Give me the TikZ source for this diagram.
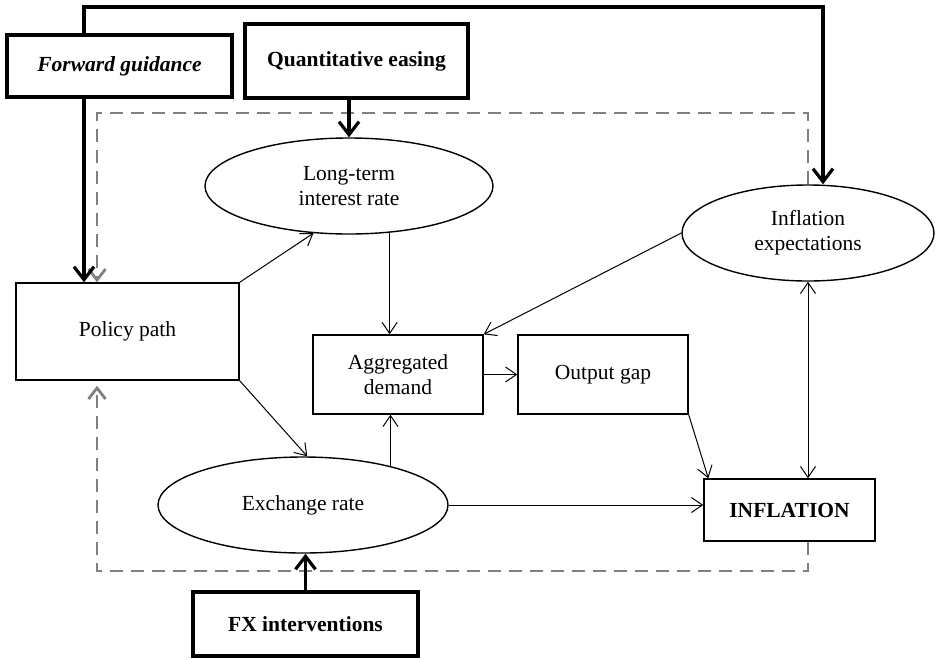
\documentclass[tikz,border=0pt]{standalone}
\usepackage{fontspec}
\setmainfont{Liberation Serif}
\usetikzlibrary{arrows.meta,shapes.geometric,calc}
\begin{document}
\begin{tikzpicture}[x=1pt,y=-1pt,
  font=\fontsize{21.5}{25}\selectfont,
  box/.style={draw, line width=1.4pt, rectangle, inner sep=0pt, align=center},
  thickbox/.style={draw, line width=3.2pt, rectangle, inner sep=0pt, align=center, font=\fontsize{21.5}{25}\selectfont\bfseries},
  oval/.style={draw, ellipse, line width=1.4pt, inner sep=0pt, align=center},
  thinarrow/.style={line width=1pt, -{Straight Barb[length=11pt,width=15pt]}},
  thinboth/.style={line width=1pt, {Straight Barb[length=11pt,width=15pt]}-{Straight Barb[length=11pt,width=15pt]}},
  strongarrow/.style={line width=3.2pt, -{Straight Barb[length=13pt,width=20pt]}},
  loopline/.style={draw=gray, line width=2.8pt, dash pattern=on 13pt off 8pt, -{Straight Barb[length=11pt,width=17pt]}}
]
\useasboundingbox (0,0) rectangle (936,659);

% nodes
\node[thickbox, minimum width=225pt, minimum height=62pt] (fg) at (119.5,66) {\itshape Forward guidance};
\node[thickbox, minimum width=223pt, minimum height=74pt] (qe) at (356.5,61) {Quantitative easing};
\node[box, minimum width=223pt, minimum height=97pt] (pp) at (127.5,331.5) {Policy path};
\node[oval, minimum width=288pt, minimum height=96pt] (lt) at (349,186) {Long-term\\interest rate};
\node[oval, minimum width=252pt, minimum height=96pt] (ie) at (808,233) {Inflation\\expectations};
\node[box, minimum width=170pt, minimum height=79pt] (ad) at (398,374.5) {Aggregated\\demand};
\node[box, minimum width=170pt, minimum height=79pt] (og) at (603,374.5) {Output gap};
\node[oval, minimum width=290pt, minimum height=96pt] (er) at (303,505) {Exchange rate};
\node[box, minimum width=171pt, minimum height=62pt, font=\fontsize{21.5}{25}\selectfont\bfseries] (inf) at (789.5,510) {INFLATION};
\node[thickbox, minimum width=225pt, minimum height=64pt] (fx) at (305.5,624) {FX interventions};

% helper coordinates
\coordinate (fgx) at ($(fg.south)+(-35.5,0)$);
\coordinate (topR) at (823,7);
\coordinate (dashTL) at (97,113);
\coordinate (dashBL) at (97,571);

% grey dashed feedback loops
\draw[loopline] (ie.north) |- (dashTL) -- (dashTL |- pp.north);
\draw[loopline, shorten >=5pt] (ie.south |- inf.south) |- (dashBL) -- (dashBL |- pp.south);

% thick policy arrows
\draw[strongarrow] (fgx) -- (fgx |- pp.north);
\draw[strongarrow] ($(fg.north)+(-35.5,0)$) |- (topR) -- (topR |- ie.north);
\draw[strongarrow] (qe.south -| lt.north) -- (lt.north);
\draw[strongarrow] (fx.north) -- (fx.north |- er.south);

% thin transmission arrows
\draw[thinarrow] (pp.north east) -- (lt.233);
\draw[thinarrow] (lt.311) -- (lt.311 |- ad.north);
\draw[thinarrow] (ie.west) -- (ad.north east);
\draw[thinarrow] (ad.east) -- (og.west);
\draw[thinarrow] (pp.south east) -- (er.85);
\draw[thinarrow] (er.24) -- (er.24 |- ad.south);
\draw[thinarrow] (er.east) -- (er.east -| inf.west);
\draw[thinarrow] (og.south east) -- ($(inf.north west)+(5,0)$);
\draw[thinboth] (ie.south) -- (ie.south |- inf.north);
\end{tikzpicture}
\end{document}
